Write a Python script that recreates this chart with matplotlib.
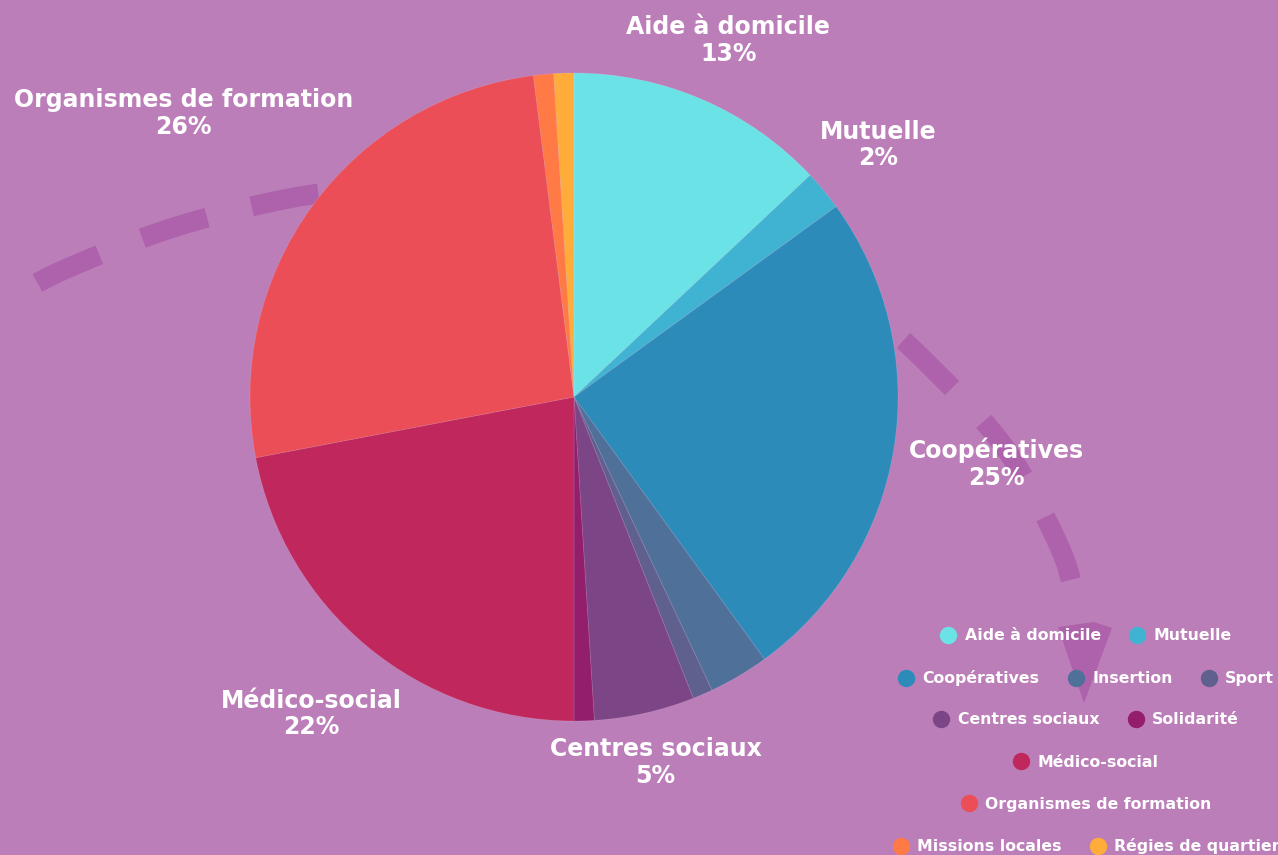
import numpy as np
import matplotlib.pyplot as plt
from matplotlib.lines import Line2D
from matplotlib.patches import Polygon

# données
categories = ["Aide à domicile", "Mutuelle", "Coopératives", "Insertion", "Sport",
              "Centres sociaux", "Solidarité", "Médico-social", "Organismes de formation",
              "Missions locales", "Régies de quartier"]
values = [13, 2, 25, 3, 1, 5, 1, 22, 26, 1, 1]
colors = ["#6BE3E6", "#40B3D3", "#2D8BBA", "#4F7099", "#60608F", "#7C4586",
          "#931E6C", "#C0275D", "#EB4E57", "#FF7A45", "#FFAC3A"]

# étiquettes affichées autour du camembert (distance relative au rayon)
label_dist = {"Aide à domicile": 1.20, "Mutuelle": 1.22, "Coopératives": 1.32,
              "Centres sociaux": 1.155, "Médico-social": 1.27,
              "Organismes de formation": 1.49}

# répartition de la légende par lignes
legend_rows = [2, 3, 2, 1, 1, 2]

BG = "#BC7EB9"
DECO = "#AD62AB"
W, H = 1278, 855

fig = plt.figure(figsize=(W / 100, H / 100), dpi=100, facecolor=BG)

# fond décoratif : flèche en pointillés
bg = fig.add_axes([0, 0, 1, 1])
bg.set_xlim(0, W)
bg.set_ylim(H, 0)
bg.axis("off")


def catmull_rom(pts, n=40):
    pts = np.asarray(pts, float)
    p = np.vstack([pts[0] * 2 - pts[1], pts, pts[-1] * 2 - pts[-2]])
    out = []
    for i in range(1, len(p) - 2):
        p0, p1, p2, p3 = p[i - 1], p[i], p[i + 1], p[i + 2]
        t = np.linspace(0, 1, n, endpoint=False)[:, None]
        out.append(0.5 * (2 * p1 + (-p0 + p2) * t + (2 * p0 - 5 * p1 + 4 * p2 - p3) * t ** 2
                          + (-p0 + 3 * p1 - 3 * p2 + p3) * t ** 3))
    out.append(pts[-1:])
    return np.vstack(out)


lw_px, on_px, off_px = 20, 68, 46


def dashed_curve(pts, first_center):
    c = catmull_rom(pts)
    s = np.concatenate([[0], np.cumsum(np.hypot(*np.diff(c, axis=0).T))])
    k = np.argmin(np.hypot(c[:, 0] - first_center[0], c[:, 1] - first_center[1]))
    start = s[k] - on_px / 2
    off = (-start) % (on_px + off_px)
    bg.plot(c[:, 0], c[:, 1], color=DECO, lw=lw_px * 0.72, solid_capstyle="butt",
            linestyle=(off / lw_px, (on_px / lw_px, off_px / lw_px)))


dashed_curve([(0.5, 303), (68, 268), (175, 227), (286, 199), (380, 186)], (68, 268))
dashed_curve([(848, 290), (928, 364), (1005, 448), (1060, 548), (1078, 612)], (928, 364))
bg.add_patch(Polygon([(1058, 627), (1094, 622), (1112, 628), (1084, 703)],
                     closed=True, color=DECO, lw=0))

# camembert
R, cx, cy = 324, 574, 397
ax = fig.add_axes([(cx - R) / W, (H - cy - R) / H, 2 * R / W, 2 * R / H])
wedges, _ = ax.pie(values, colors=colors, startangle=90, counterclock=False, radius=1,
                   wedgeprops=dict(edgecolor=(1, 1, 1, 0.12), linewidth=0.6))
ax.set_xlim(-1, 1)
ax.set_ylim(-1, 1)
ax.axis("off")

for w, name, v in zip(wedges, categories, values):
    if name not in label_dist:
        continue
    mid = np.deg2rad((w.theta1 + w.theta2) / 2)
    d = label_dist[name]
    ax.text(d * np.cos(mid), d * np.sin(mid), f"{name}\n{v}%", ha="center", va="center",
            color="white", fontsize=17, fontweight="bold", linespacing=1.15)

# légende en lignes centrées
i = 0
for r, n in enumerate(legend_rows):
    y = 636 + 42 * r
    handles = [Line2D([], [], marker="o", ls="", color=colors[j], markersize=11.5)
               for j in range(i, i + n)]
    fig.legend(handles, categories[i:i + n], loc="center",
               bbox_to_anchor=(1087 / W, 1 - y / H), ncol=n, frameon=False,
               handlelength=0.8, handletextpad=0.65, columnspacing=1.9,
               borderpad=0, borderaxespad=0, labelcolor="white",
               prop=dict(weight="bold", size=11.3))
    i += n

fig.savefig("out.png", dpi=100, facecolor=BG)
